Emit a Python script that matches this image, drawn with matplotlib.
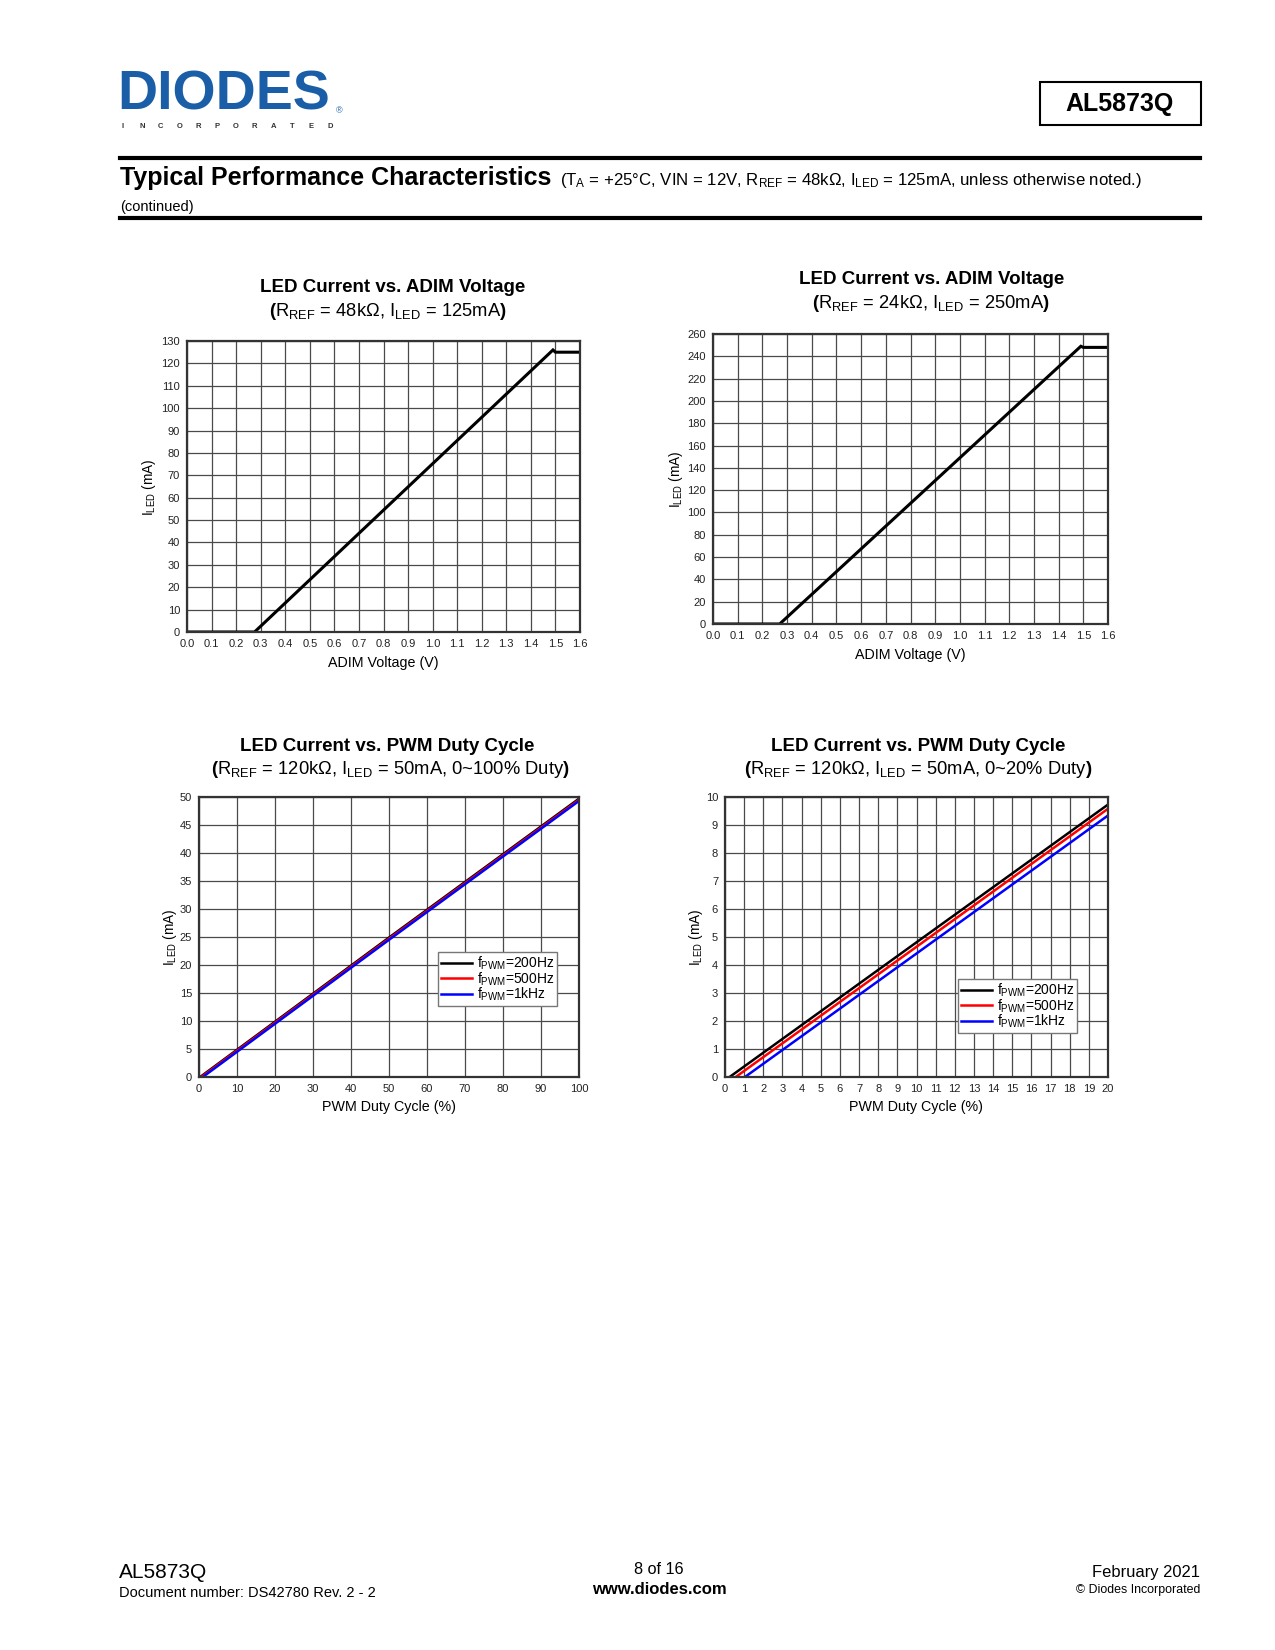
import matplotlib
matplotlib.use('Agg')
import matplotlib.pyplot as plt
from matplotlib.ticker import FormatStrFormatter
from matplotlib.patches import Rectangle
from matplotlib.lines import Line2D

# ---------------- data ----------------
adim_ticks = [0.0, 0.1, 0.2, 0.3, 0.4, 0.5, 0.6, 0.7, 0.8, 0.9, 1.0, 1.1, 1.2, 1.3, 1.4, 1.5, 1.6]
adim_v_48k = [0.0, 0.275, 1.49, 1.50, 1.60]
iled_48k = [0, 0, 126, 125, 125]
yticks_48k = list(range(0, 131, 10))

adim_v_24k = [0.0, 0.27, 1.49, 1.50, 1.60]
iled_24k = [0, 0, 249, 248, 248]
yticks_24k = list(range(0, 261, 20))

pwm_labels = ['200Hz', '500Hz', '1kHz']
pwm_colors = ['#000000', '#ff0000', '#0000ff']

duty100_200 = [0.3, 50, 100]
iled100_200 = [0, 24.9, 49.7]
duty100_500 = [0.6, 50, 100]
iled100_500 = [0, 24.7, 49.5]
duty100_1k = [1.0, 50, 100]
iled100_1k = [0, 24.5, 49.3]
xticks_100 = list(range(0, 101, 10))
yticks_50 = list(range(0, 51, 5))

duty20_200 = [0.24, 10, 20]
iled20_200 = [0, 4.81, 9.73]
duty20_500 = [0.56, 10, 20]
iled20_500 = [0, 4.65, 9.58]
duty20_1k = [1.04, 10, 20]
iled20_1k = [0, 4.41, 9.34]
xticks_20 = list(range(0, 21, 1))
yticks_10 = list(range(0, 11, 1))

# ---------------- style ----------------
plt.rcParams['font.family'] = ['Liberation Sans', 'DejaVu Sans']
plt.rcParams['mathtext.fontset'] = 'custom'
plt.rcParams['mathtext.rm'] = 'Liberation Sans'
plt.rcParams['mathtext.it'] = 'Liberation Sans:italic'
plt.rcParams['mathtext.bf'] = 'Liberation Sans:bold'

W, H = 1275, 1650
fig = plt.figure(figsize=(W / 100, H / 100), dpi=100)
fig.patch.set_facecolor('white')


def fx(x):
    return x / W


def fy(y):
    return 1 - y / H


def axes_px(x0, y0, x1, y1):
    return fig.add_axes([fx(x0), fy(y1), (x1 - x0) / W, (y1 - y0) / H])


def style_axes(ax, xt, yt, xlim, ylim, xfmt=None):
    ax.set_xlim(*xlim)
    ax.set_ylim(*ylim)
    ax.set_xticks(xt)
    ax.set_yticks(yt)
    if xfmt:
        ax.xaxis.set_major_formatter(FormatStrFormatter(xfmt))
    ax.grid(True, color='#4a4a4a', lw=0.9)
    ax.set_axisbelow(True)
    ax.tick_params(length=0, pad=5, labelsize=8, colors='#222222')
    for s in ax.spines.values():
        s.set_color('#333333')
        s.set_linewidth(1.6)


def titles(cx_t, y_t, cx_s, y_s, t, s):
    fig.text(fx(cx_t), fy(y_t), t, ha='center', va='center', fontsize=13.5, fontweight='bold')
    fig.text(fx(cx_s), fy(y_s), s, ha='center', va='center', fontsize=13.2)


def make_legend(ax, x, y):
    leg = ax.legend(loc='upper left', bbox_to_anchor=(fx(x), fy(y)), bbox_transform=fig.transFigure,
                    borderaxespad=0, fontsize=10, handlelength=2.3, handletextpad=0.3,
                    labelspacing=-0.12, borderpad=0.18, fancybox=False, framealpha=1)
    leg.get_frame().set_edgecolor('#777777')
    leg.get_frame().set_linewidth(1.0)
    return leg


# ---------------- header ----------------
fig.text(fx(117), fy(109), 'DIODES', ha='left', va='baseline', fontsize=40, fontweight='heavy',
         color='#1b5ea8')
letters = 'INCORPORATED'
for i, ch in enumerate(letters):
    fig.text(fx(123 + i * 18.8), fy(127), ch, ha='center', va='center', fontsize=5.5,
             fontweight='bold', color='#333333')
fig.text(fx(339), fy(111), '®', ha='center', va='center', fontsize=6.5, color='#1b5ea8')

fig.add_artist(Rectangle((fx(1040), fy(125)), (1201 - 1040) / W, (125 - 82) / H,
                         transform=fig.transFigure, fill=False, lw=1.5, ec='#000000'))
fig.text(fx(1120), fy(104), 'AL5873Q', ha='center', va='center', fontsize=18, fontweight='bold')

fig.add_artist(Line2D([fx(120), fx(1200)], [fy(158), fy(158)], lw=3, color='#000000'))
fig.add_artist(Line2D([fx(120), fx(1200)], [fy(218), fy(218)], lw=3, color='#000000'))
fig.text(fx(120), fy(185), 'Typical Performance Characteristics', ha='left', va='baseline',
         fontsize=18, fontweight='bold', family=['Liberation Sans Narrow', 'Liberation Sans'])
fig.text(fx(560), fy(185),
         '(T$_{\\mathrm{A}}$ = +25°C, VIN = 12V, R$_{\\mathrm{REF}}$ = 48kΩ, I$_{\\mathrm{LED}}$ = 125mA, unless otherwise noted.)',
         ha='left', va='baseline', fontsize=12.1)
fig.text(fx(120), fy(211), '(continued)', ha='left', va='baseline', fontsize=10.5)

# ---------------- chart 1 ----------------
ax1 = axes_px(187, 341, 580, 632)
ax1.plot(adim_v_48k, iled_48k, color='black', lw=2.2, solid_joinstyle='miter')
style_axes(ax1, adim_ticks, yticks_48k, (0, 1.6), (0, 130), '%.1f')
titles(393, 288, 388, 311, 'LED Current vs. ADIM Voltage',
       '$\\mathbf{(}$R$_{\\mathrm{REF}}$ = 48kΩ, I$_{\\mathrm{LED}}$ = 125mA$\\mathbf{)}$')
fig.text(fx(383), fy(663), 'ADIM Voltage (V)', ha='center', va='center', fontsize=10.3)
fig.text(fx(149), fy(487), 'I$_{\\mathrm{LED}}$ (mA)', ha='center', va='center', fontsize=9.8, rotation=90)

# ---------------- chart 2 ----------------
ax2 = axes_px(713, 334, 1108, 624)
ax2.plot(adim_v_24k, iled_24k, color='black', lw=2.2, solid_joinstyle='miter')
style_axes(ax2, adim_ticks, yticks_24k, (0, 1.6), (0, 260), '%.1f')
titles(932, 280, 931, 303, 'LED Current vs. ADIM Voltage',
       '$\\mathbf{(}$R$_{\\mathrm{REF}}$ = 24kΩ, I$_{\\mathrm{LED}}$ = 250mA$\\mathbf{)}$')
fig.text(fx(910), fy(655), 'ADIM Voltage (V)', ha='center', va='center', fontsize=10.3)
fig.text(fx(676), fy(479), 'I$_{\\mathrm{LED}}$ (mA)', ha='center', va='center', fontsize=9.8, rotation=90)

# ---------------- chart 3 ----------------
ax3 = axes_px(199, 797, 579, 1077)
series100 = [(duty100_200, iled100_200), (duty100_500, iled100_500), (duty100_1k, iled100_1k)]
for (d, i), lab, c in zip(series100, pwm_labels, pwm_colors):
    ax3.plot(d, i, color=c, lw=1.8, label='f$_{\\mathrm{PWM}}$=' + lab)
style_axes(ax3, xticks_100, yticks_50, (0, 100), (0, 50))
titles(387, 747, 390, 770, 'LED Current vs. PWM Duty Cycle',
       '$\\mathbf{(}$R$_{\\mathrm{REF}}$ = 120kΩ, I$_{\\mathrm{LED}}$ = 50mA, 0~100% Duty$\\mathbf{)}$')
fig.text(fx(389), fy(1107), 'PWM Duty Cycle (%)', ha='center', va='center', fontsize=10.3)
fig.text(fx(170), fy(937), 'I$_{\\mathrm{LED}}$ (mA)', ha='center', va='center', fontsize=9.8, rotation=90)
make_legend(ax3, 438, 952)

# ---------------- chart 4 ----------------
ax4 = axes_px(725, 797, 1108, 1077)
series20 = [(duty20_200, iled20_200), (duty20_500, iled20_500), (duty20_1k, iled20_1k)]
for (d, i), lab, c in zip(series20, pwm_labels, pwm_colors):
    ax4.plot(d, i, color=c, lw=1.8, label='f$_{\\mathrm{PWM}}$=' + lab)
style_axes(ax4, xticks_20, yticks_10, (0, 20), (0, 10))
titles(918, 747, 918, 770, 'LED Current vs. PWM Duty Cycle',
       '$\\mathbf{(}$R$_{\\mathrm{REF}}$ = 120kΩ, I$_{\\mathrm{LED}}$ = 50mA, 0~20% Duty$\\mathbf{)}$')
fig.text(fx(916), fy(1107), 'PWM Duty Cycle (%)', ha='center', va='center', fontsize=10.3)
fig.text(fx(696), fy(937), 'I$_{\\mathrm{LED}}$ (mA)', ha='center', va='center', fontsize=9.8, rotation=90)
make_legend(ax4, 958, 979)

# ---------------- footer ----------------
fig.text(fx(119), fy(1573), 'AL5873Q', ha='left', va='center', fontsize=15)
fig.text(fx(119), fy(1593), 'Document number: DS42780 Rev. 2 - 2', ha='left', va='center', fontsize=10.5)
fig.text(fx(659), fy(1570), '8 of 16', ha='center', va='center', fontsize=11.7)
fig.text(fx(659), fy(1589), 'www.diodes.com', ha='center', va='center', fontsize=12, fontweight='bold')
fig.text(fx(1200), fy(1573), 'February 2021', ha='right', va='center', fontsize=11.9)
fig.text(fx(1200), fy(1590), '© Diodes Incorporated', ha='right', va='center', fontsize=8.9)

fig.savefig('out.png', dpi=100, facecolor='white')
